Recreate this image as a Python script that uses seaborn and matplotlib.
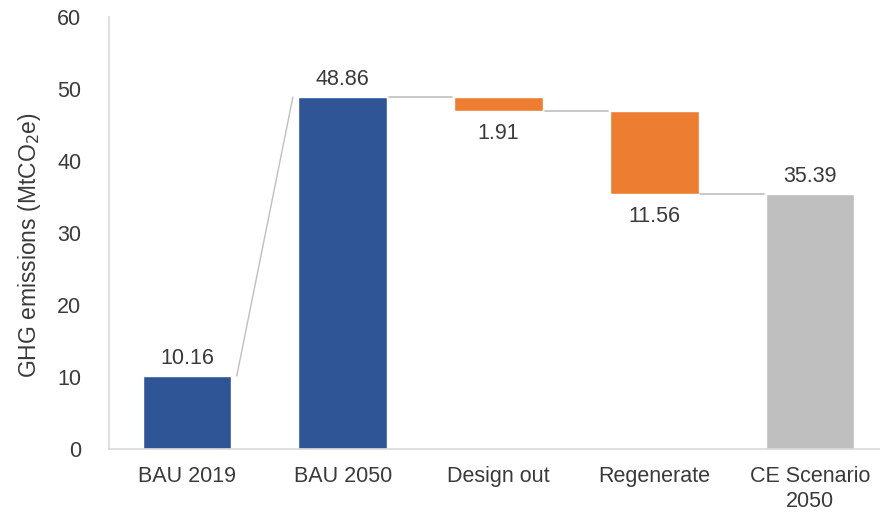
import numpy as np
import pandas as pd
import matplotlib
matplotlib.use("Agg")
import matplotlib.pyplot as plt
import seaborn as sns

# Waterfall of GHG emissions (MtCO2e)
categories = ["BAU 2019", "BAU 2050", "Design out", "Regenerate", "CE Scenario\n2050"]
totals = {"BAU 2019": 10.16, "BAU 2050": 48.86}
reductions = {"Design out": 1.91, "Regenerate": 11.56}
final_label = "CE Scenario\n2050"
final_value = 35.39
yticks = [0, 10, 20, 30, 40, 50, 60]

BLUE = "#2F5597"
ORANGE = "#ED7D31"
GREY = "#BFBFBF"
TEXT = "#3A3A3A"
AXIS = "#D9D9D9"
LINK = "#BFBFBF"

sns.set_theme(style="white")
plt.rcParams["font.family"] = ["Liberation Sans", "DejaVu Sans"]

fig = plt.figure(figsize=(8.8, 5.15), dpi=100)
ax = fig.add_axes([0.1239, 0.1282, 0.8761, 0.8388])

# running level after each reduction
start = totals["BAU 2050"]
red_names = list(reductions)
red_vals = np.array([reductions[k] for k in red_names])
red_bottoms = start - np.cumsum(red_vals)

width = 0.57
tot_df = pd.DataFrame({"cat": list(totals), "val": list(totals.values())})
red_df = pd.DataFrame({"cat": red_names, "val": red_vals})
fin_df = pd.DataFrame({"cat": [final_label], "val": [final_value]})

sns.barplot(data=tot_df, x="cat", y="val", order=categories, color=BLUE,
            saturation=1, width=width, ax=ax)
sns.barplot(data=red_df, x="cat", y="val", order=categories, color=ORANGE,
            saturation=1, width=width, bottom=red_bottoms, ax=ax)
sns.barplot(data=fin_df, x="cat", y="val", order=categories, color=GREY,
            saturation=1, width=width, ax=ax)

# connector lines between consecutive bars
levels_top = [totals["BAU 2019"], totals["BAU 2050"]] + list(red_bottoms) + [final_value]
gap = 0.035
half = width / 2
# rising link from BAU 2019 to BAU 2050
ax.plot([0 + half + gap, 1 - half - gap], [levels_top[0], levels_top[1]],
        color=LINK, lw=1, zorder=1)
# flat links at each running level
for i in range(1, 4):
    ax.plot([i + half + gap * 0.3, i + 1 - half - gap * 0.3],
            [levels_top[i], levels_top[i]], color=LINK, lw=1.2, zorder=1)

# value labels
fs = 15.5
ax.text(0, totals["BAU 2019"] + 1.0, f"{totals['BAU 2019']:.2f}", ha="center",
        va="bottom", fontsize=fs, color=TEXT)
ax.text(1, totals["BAU 2050"] + 1.0, f"{totals['BAU 2050']:.2f}", ha="center",
        va="bottom", fontsize=fs, color=TEXT)
for j, (name, v, b) in enumerate(zip(red_names, red_vals, red_bottoms)):
    ax.text(2 + j, b - 1.7, f"{v:.2f}", ha="center", va="top", fontsize=fs, color=TEXT)
ax.text(4, final_value + 1.0, f"{final_value:.2f}", ha="center", va="bottom",
        fontsize=fs, color=TEXT)

ax.set_xlim(-0.5, 4.449)
ax.set_ylim(0, 60)
ax.set_yticks(yticks)
ax.set_yticklabels([str(t) for t in yticks])
ax.set_xlabel("")
ax.set_ylabel("GHG emissions (MtCO$_2$e)", fontsize=16.5, color=TEXT)
ax.yaxis.set_label_coords(-0.0856, 0.472)
ax.tick_params(axis="both", length=0, labelsize=fs, labelcolor=TEXT)
ax.tick_params(axis="y", pad=20)
ax.tick_params(axis="x", pad=12)
for lab in ax.get_xticklabels():
    lab.set_linespacing(1.3)

for s in ["top", "right"]:
    ax.spines[s].set_visible(False)
for s in ["left", "bottom"]:
    ax.spines[s].set_color(AXIS)
    ax.spines[s].set_linewidth(1.2)

fig.savefig("out.png", dpi=100, facecolor="white")
